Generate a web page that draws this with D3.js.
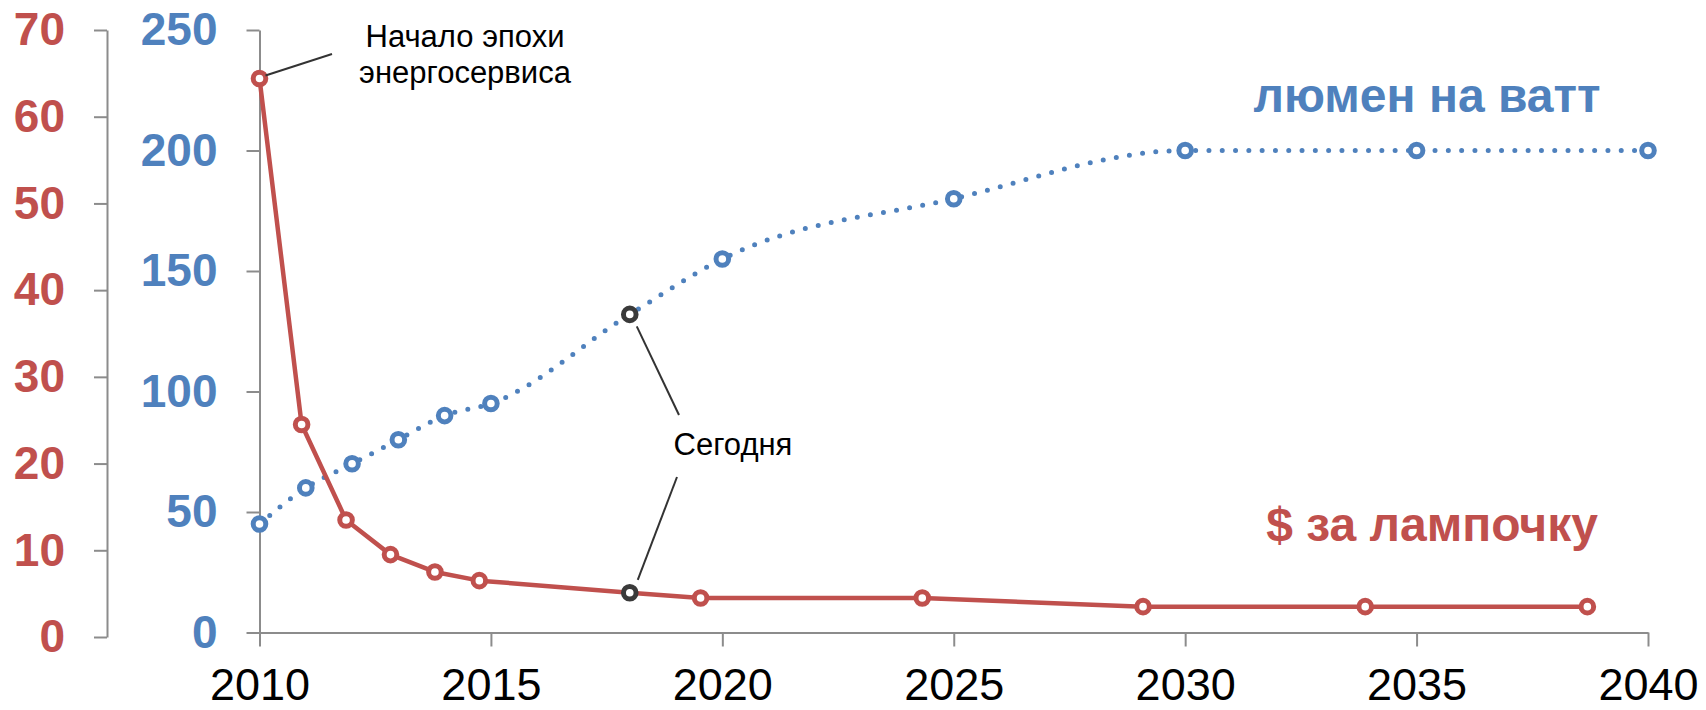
<!DOCTYPE html>
<meta charset="utf-8">
<style>

body {
  margin: 0;
  background: #fff;
}

text {
  font-family: "Liberation Sans", Arial, sans-serif;
}

.axis path,
.axis line {
  stroke: #8c8c8c;
  stroke-width: 2;
}

</style>
<body>

<script src="https://cdn.jsdelivr.net/npm/d3@7"></script>
<script>

// light output, lumens per watt
var lmYears = [2010, 2011, 2012, 2013, 2014, 2015, 2018, 2020, 2025, 2030, 2035, 2040],
    lmValues = [45, 60, 70, 80, 90, 95, 132, 155, 180, 200, 200, 200];

// price per bulb, dollars (points sit between the year ticks in the original)
var usdYears = [2010, 2010.91, 2011.87, 2012.83, 2013.79, 2014.75, 2018, 2019.53, 2024.32, 2029.09, 2033.89, 2038.69],
    usdValues = [64.4, 24.5, 13.5, 9.5, 7.5, 6.5, 5.1, 4.5, 4.5, 3.5, 3.5, 3.5];

var todayIndex = 6;

var yearTicks = [2010, 2015, 2020, 2025, 2030, 2035, 2040],
    lmTicks = [0, 50, 100, 150, 200, 250],
    usdTicks = [0, 10, 20, 30, 40, 50, 60, 70];

var red = "#c0504d",
    blue = "#4f81bd",
    dark = "#3a3a3a";

var width = 1706,
    height = 710;

var x = d3.scaleLinear().domain([2010, 2040]).range([259.5, 1648]),
    yLm = d3.scaleLinear().domain([0, 250]).range([632.5, 30]),
    yUsd = d3.scaleLinear().domain([0, 70]).range([637, 30]);

var svg = d3.select("body").append("svg")
    .attr("width", width)
    .attr("height", height);

// axes
var usdAxis = svg.append("g")
    .attr("class", "axis")
    .attr("transform", "translate(107,0)")
    .call(d3.axisLeft(yUsd).tickValues(usdTicks).tickSize(13).tickSizeOuter(0).tickPadding(29));

usdAxis.selectAll("text")
    .style("font-size", "46px")
    .style("font-weight", "bold")
    .attr("fill", red);

var lmAxis = svg.append("g")
    .attr("class", "axis")
    .attr("transform", "translate(" + x(2010) + ",0)")
    .call(d3.axisLeft(yLm).tickValues(lmTicks).tickSize(13).tickSizeOuter(0).tickPadding(29));

lmAxis.selectAll("text")
    .style("font-size", "46px")
    .style("font-weight", "bold")
    .attr("fill", blue);

var xAxis = svg.append("g")
    .attr("class", "axis")
    .attr("transform", "translate(0," + yLm(0) + ")")
    .call(d3.axisBottom(x).tickValues(yearTicks).tickFormat(d3.format("d")).tickSize(14).tickSizeOuter(0));

xAxis.selectAll("text")
    .attr("y", 67)
    .attr("dy", 0)
    .style("font-size", "45px")
    .attr("fill", "#000");

// lumens per watt: dotted smooth line
var lmData = lmYears.map(function(d, i) { return [d, lmValues[i]]; }),
    usdData = usdYears.map(function(d, i) { return [d, usdValues[i]]; });

svg.append("path")
    .datum(lmData)
    .attr("fill", "none")
    .attr("stroke", blue)
    .attr("stroke-width", 5)
    .attr("stroke-linecap", "round")
    .attr("stroke-dasharray", "0 13.3")
    .attr("d", d3.line()
        .curve(d3.curveMonotoneX)
        .x(function(d) { return x(d[0]); })
        .y(function(d) { return yLm(d[1]); }));

svg.append("g")
  .selectAll("circle")
    .data(lmData)
  .enter().append("circle")
    .attr("cx", function(d) { return x(d[0]); })
    .attr("cy", function(d) { return yLm(d[1]); })
    .attr("r", 6.3)
    .attr("fill", "#fff")
    .attr("stroke", function(d, i) { return i === todayIndex ? dark : blue; })
    .attr("stroke-width", 5);

// dollars per bulb: solid line
svg.append("path")
    .datum(usdData)
    .attr("fill", "none")
    .attr("stroke", red)
    .attr("stroke-width", 4.5)
    .attr("stroke-linejoin", "round")
    .attr("d", d3.line()
        .x(function(d) { return x(d[0]); })
        .y(function(d) { return yUsd(d[1]); }));

svg.append("g")
  .selectAll("circle")
    .data(usdData)
  .enter().append("circle")
    .attr("cx", function(d) { return x(d[0]); })
    .attr("cy", function(d) { return yUsd(d[1]); })
    .attr("r", 6.3)
    .attr("fill", "#fff")
    .attr("stroke", function(d, i) { return i === todayIndex ? dark : red; })
    .attr("stroke-width", 5);

// annotations
var leader = svg.append("g")
    .attr("stroke", "#333")
    .attr("stroke-width", 2);

leader.append("line")
    .attr("x1", x(usdData[0][0]) + 6).attr("y1", yUsd(usdData[0][1]) - 3)
    .attr("x2", 332).attr("y2", 54);

leader.append("line")
    .attr("x1", x(lmData[todayIndex][0]) + 7).attr("y1", yLm(lmData[todayIndex][1]) + 12)
    .attr("x2", 679).attr("y2", 415);

leader.append("line")
    .attr("x1", 677).attr("y1", 477)
    .attr("x2", x(usdData[todayIndex][0]) + 8).attr("y2", yUsd(usdData[todayIndex][1]) - 13);

svg.append("text")
    .attr("x", 465).attr("y", 47)
    .attr("text-anchor", "middle")
    .style("font-size", "31px")
    .text("Начало эпохи");

svg.append("text")
    .attr("x", 465).attr("y", 83)
    .attr("text-anchor", "middle")
    .style("font-size", "31px")
    .text("энергосервиса");

svg.append("text")
    .attr("x", 733).attr("y", 455)
    .attr("text-anchor", "middle")
    .style("font-size", "31px")
    .text("Сегодня");

svg.append("text")
    .attr("x", 1427).attr("y", 112)
    .attr("text-anchor", "middle")
    .style("font-size", "48px")
    .style("font-weight", "bold")
    .attr("fill", blue)
    .text("люмен на ватт");

svg.append("text")
    .attr("x", 1432).attr("y", 541)
    .attr("text-anchor", "middle")
    .style("font-size", "48px")
    .style("font-weight", "bold")
    .attr("fill", red)
    .text("$ за лампочку");

</script>
